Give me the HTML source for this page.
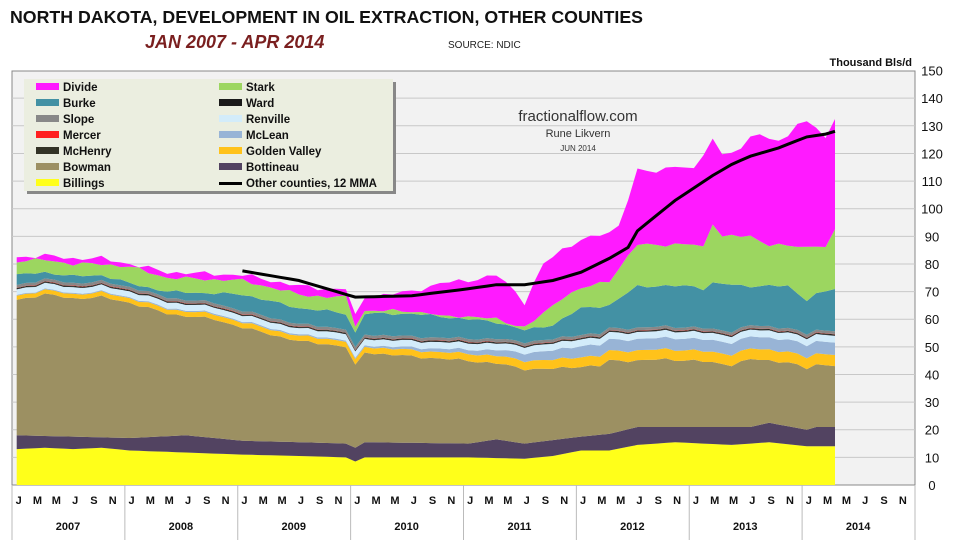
<!DOCTYPE html>
<html><head><meta charset="utf-8">
<style>
body{margin:0;background:#fff;width:960px;height:540px;overflow:hidden;font-family:"Liberation Sans",sans-serif;}
svg text{font-family:"Liberation Sans",sans-serif;}
</style></head>
<body>
<svg id="c" width="960" height="540" xmlns="http://www.w3.org/2000/svg">
<rect width="960" height="540" fill="#fff"/>
<text x="10" y="23" font-size="17.7" font-weight="bold" fill="#111" textLength="633" lengthAdjust="spacingAndGlyphs">NORTH DAKOTA, DEVELOPMENT IN OIL EXTRACTION, OTHER COUNTIES</text>
<text x="145" y="48" font-size="18" font-weight="bold" font-style="italic" fill="#7a1f1f">JAN 2007 - APR 2014</text>
<text x="448" y="48" font-size="10" fill="#222">SOURCE: NDIC</text>
<text x="912" y="66" font-size="11" font-weight="bold" fill="#111" text-anchor="end">Thousand Bls/d</text>
<rect x="12" y="71" width="903" height="414" fill="#f2f2f2" stroke="#888" stroke-width="1"/>
<g id="grid"></g>
<g id="areas"></g>
<g id="axis"></g>
<text x="578" y="121" font-size="15" fill="#333" text-anchor="middle">fractionalflow.com</text>
<text x="578" y="137" font-size="11" fill="#333" text-anchor="middle">Rune Likvern</text>
<text x="578" y="151" font-size="8" fill="#333" text-anchor="middle">JUN 2014</text>
<rect x="27" y="82" width="369" height="112" fill="#888"/>
<rect x="24" y="79" width="369" height="112" fill="#ebeee0"/>
<g id="legend" font-size="11.5" font-weight="bold" fill="#111"></g>
</svg>
<script>
const Y=v=>485-2.763*v, X=m=>12+(m+0.5)*9.406;
function I(k){const a=[];for(let m=0;m<=87;m++){let i=0;while(i<k.length-2&&k[i+1][0]<m)i++;const [m0,v0]=k[i],[m1,v1]=k[i+1];let t=m1==m0?1:(m-m0)/(m1-m0);t=Math.max(0,Math.min(1,t));a.push(v0+(v1-v0)*t);}return a;}
const nz=m=>Math.sin(m*2.3)*0.6+Math.sin(m*5.1)*0.4;
const bill=I([[0,13],[3,13.5],[6,13],[9,13.5],[12,12.5],[24,11],[30,10.5],[35,10],[36,8.5],[37,10],[48,10],[54,9.5],[57,10.5],[60,12.5],[63,12.5],[66,14.5],[70,15.5],[76,14.5],[80,15.5],[84,14],[87,14]]);
const bott=I([[0,18],[12,17],[18,18],[24,16],[30,15.5],[35,15],[36,13.5],[37,15.5],[48,15],[51,16.5],[54,15],[60,17.5],[63,18.5],[66,21],[78,21],[80,22.5],[84,20],[85,21],[87,21]]);
const bow=I([[0,67],[3,69],[6,67.5],[9,68],[12,66],[16,62],[21,60],[24,57],[30,52],[33,51],[35,50],[36,43],[37,48],[42,46.5],[48,45],[51,44],[54,42],[57,42],[60,43],[62,43],[63,45],[66,45],[69,45.5],[72,45],[76,43.5],[78,45.5],[82,44.5],[84,42],[85,43.5],[87,43.5]]).map((v,m)=>v+nz(m)*0.6);
const gvo=I([[0,1.5],[36,2],[48,2.5],[60,3.5],[87,4]]);
const mlo=I([[0,0.3],[36,0.5],[48,1.5],[60,4],[87,4.5]]);
const rvo=I([[0,2],[60,2.5],[87,2.5]]);
const burke=I([[0,76],[3,77],[6,75.5],[9,76],[12,73],[16,70],[24,69],[30,64],[33,63],[35,62],[36,55],[37,62],[42,62],[48,60],[51,59],[54,56],[57,58],[60,64],[63,65],[66,72],[72,72],[73,71],[74,73],[78,72],[82,72],[84,67],[85,69],[87,71]]).map((v,m)=>v+nz(m+3)*0.6);
const stark=I([[0,81],[3,81.5],[6,80],[9,80],[12,79],[16,75],[24,74],[30,69],[33,68],[35,68],[36,58],[37,63],[42,63],[45,61],[48,61],[51,60],[54,57],[56,62],[58,68],[60,71],[63,74],[66,87],[72,87],[73,86],[74,95],[75,90],[78,90],[80,87],[84,86],[85,87],[86,86],[87,92]]).map((v,m)=>v+nz(m+7)*0.8);
const div=I([[0,82.5],[3,83],[6,82],[9,82],[12,80],[16,77],[24,76],[30,72],[33,71],[35,71],[36,61],[37,68],[42,70],[45,73],[48,74],[51,76],[53,70],[54,66],[56,80],[58,85],[60,89],[63,91],[64,94],[66,114],[68,113],[70,116],[72,114],[74,125],[75,120],[76,121],[77,121],[78,126],[79,127],[80,125],[82,126],[83,130],[84,132],[86,126],[87,133]]).map((v,m)=>v+nz(m+11)*1.0);
const b1=bill,b2=bott,b3=bow;
const gv=b3.map((v,i)=>v+gvo[i]), ml=gv.map((v,i)=>v+mlo[i]), rv=ml.map((v,i)=>v+rvo[i]);
const wd=rv.map(v=>v+0.3), mh=wd.map(v=>v+0.2), mc=mh.map(v=>v+0.1), sl=mc.map(v=>v+1.0);
const bk=burke.map((v,i)=>Math.max(v,sl[i]));
const st=stark.map((v,i)=>Math.max(v,bk[i]));
const dv=div.map((v,i)=>Math.max(v,st[i]));
const zero=b1.map(()=>0);
const layers=[[zero,b1,"#ffff1a"],[b1,b2,"#524361"],[b2,b3,"#9c9062"],[b3,gv,"#ffc21a"],[gv,ml,"#98b4d6"],[ml,rv,"#d3ecfa"],[rv,wd,"#1a1a1a"],[wd,mh,"#333326"],[mh,mc,"#ff2020"],[mc,sl,"#888888"],[sl,bk,"#4391a4"],[bk,st,"#9cd660"],[st,dv,"#ff1aff"]];
let s="";
for(const [lo,hi,c] of layers){let p="M"+X(0)+","+Y(hi[0]);for(let m=1;m<=87;m++)p+="L"+X(m).toFixed(1)+","+Y(hi[m]).toFixed(1);for(let m=87;m>=0;m--)p+="L"+X(m).toFixed(1)+","+Y(lo[m]).toFixed(1);s+=`<path d="${p}Z" fill="${c}"/>`;}
const mma=I([[24,77.5],[30,74],[36,68],[42,68.5],[48,71],[51,72.5],[54,72.5],[57,74],[60,77],[63,82],[65,86],[66,92],[70,103],[74,112],[76,116],[78,119],[81,122],[84,126],[86,127],[87,128]]);
let p="";for(let m=24;m<=87;m++)p+=(m==24?"M":"L")+X(m).toFixed(1)+","+Y(mma[m]).toFixed(1);
s+=`<path d="${p}" fill="none" stroke="#000" stroke-width="3"/>`;
document.getElementById("areas").innerHTML=s;
let g="";for(let v=10;v<150;v+=10)g+=`<line x1="12" x2="915" y1="${Y(v)}" y2="${Y(v)}" stroke="#c8c8c8" stroke-width="1"/>`;
document.getElementById("grid").innerHTML=g;
let a="";for(let v=0;v<=150;v+=10)a+=`<text x="932" y="${Y(v)+5}" font-size="13" fill="#111" text-anchor="middle">${v}</text>`;
const ml2=["J","M","M","J","S","N"];
for(let y=0;y<8;y++){const x0=12+y*12*9.406;a+=`<line x1="${x0}" x2="${x0}" y1="485" y2="540" stroke="#bbb"/>`;
for(let k=0;k<6;k++)a+=`<text x="${X(y*12+k*2)+2}" y="504" font-size="11" font-weight="bold" fill="#111" text-anchor="middle">${ml2[k]}</text>`;
a+=`<text x="${x0+56}" y="530" font-size="11" font-weight="bold" fill="#111" text-anchor="middle">${2007+y}</text>`;}
a+=`<line x1="915" x2="915" y1="485" y2="540" stroke="#bbb"/>`;
document.getElementById("axis").innerHTML=a;
const leg=[["Divide","#ff1aff"],["Stark","#9cd660"],["Burke","#4391a4"],["Ward","#1a1a1a"],["Slope","#888888"],["Renville","#d3ecfa"],["Mercer","#ff2020"],["McLean","#98b4d6"],["McHenry","#333326"],["Golden Valley","#ffc21a"],["Bowman","#9c9062"],["Bottineau","#524361"],["Billings","#ffff1a"],["Other counties, 12 MMA",null]];
let l="";leg.forEach((e,i)=>{const col=i%2,row=Math.floor(i/2);const x=col?219:36,y=87+row*16;
if(e[1])l+=`<rect x="${x}" y="${y-4}" width="23" height="7" fill="${e[1]}"/>`;else l+=`<rect x="${x}" y="${y-1}" width="23" height="3" fill="#000"/>`;
l+=`<text x="${x+27}" y="${y+4}">${e[0]}</text>`;});
document.getElementById("legend").innerHTML=l;
</script>
</body></html>
